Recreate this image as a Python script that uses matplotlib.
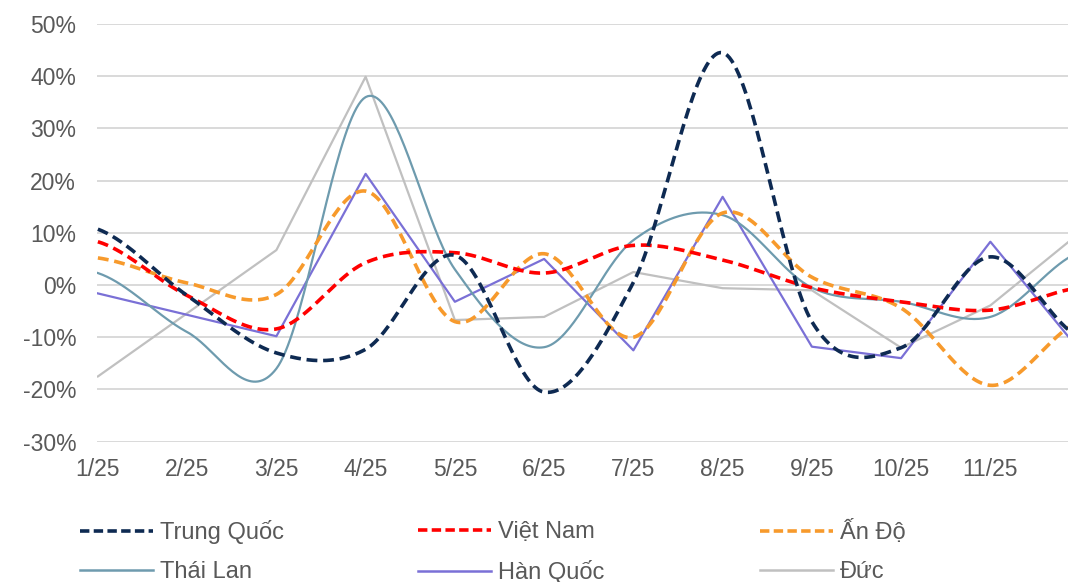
import matplotlib
matplotlib.use("Agg")
import matplotlib.pyplot as plt
import numpy as np
from matplotlib.lines import Line2D

plt.rcParams['font.family'] = ['Liberation Sans', 'DejaVu Sans']

# months (12/25 sits just past the right edge of the picture)
months = ["1/25", "2/25", "3/25", "4/25", "5/25", "6/25",
          "7/25", "8/25", "9/25", "10/25", "11/25", "12/25"]

# growth rates, %
trung_quoc = [10.7, -2.0, -13.0, -12.3, 5.7, -20.5, 0.5, 44.5, -7.0, -12.0, 5.4, -10.0]
viet_nam = [8.3, -2.0, -8.4, 4.3, 6.2, 2.3, 7.6, 4.8, -0.5, -3.2, -4.8, -0.5]
an_do = [5.2, 0.4, -1.8, 18.0, -7.0, 6.0, -10.0, 13.8, 1.5, -4.4, -19.2, -7.0]
thai_lan = [2.3, -9.0, -16.0, 36.0, 3.0, -11.9, 8.6, 13.4, -0.5, -3.2, -6.1, 6.3]
han_quoc = [-1.6, -5.7, -9.8, 21.3, -3.2, 5.0, -12.5, 16.9, -11.8, -14.0, 8.3, -12.5]
duc = [-17.5, -5.4, 6.7, 39.9, -6.7, -6.1, 2.5, -0.6, -1.0, -12.0, -3.9, 10.0]

y_ticks = [-30, -20, -10, 0, 10, 20, 30, 40, 50]

GRAY_TXT = "#595959"


def smooth(y, n=40):
    # Excel-like smoothed line: Catmull-Rom segments as cubic Bezier
    y = np.asarray(y, dtype=float)
    pad = np.concatenate([[y[0]], y, [y[-1]]])
    xs, ys = [], []
    t = np.linspace(0, 1, n)
    for i in range(len(y) - 1):
        p0, p3 = pad[i + 1], pad[i + 2]
        c1 = p0 + (pad[i + 2] - pad[i]) / 6
        c2 = p3 - (pad[i + 3] - pad[i + 1]) / 6
        b = ((1 - t) ** 3 * p0 + 3 * (1 - t) ** 2 * t * c1
             + 3 * (1 - t) * t ** 2 * c2 + t ** 3 * p3)
        xs.append(i + t)
        ys.append(b)
    return np.concatenate(xs), np.concatenate(ys)


fig = plt.figure(figsize=(10.68, 5.82), dpi=100)
ax = fig.add_axes([97 / 1068, 1 - 441.7 / 582, 1 - 97 / 1068, (441.7 - 24) / 582])

series = [
    ("Trung Quốc", trung_quoc, "#0E2A52", True, True),
    ("Việt Nam", viet_nam, "#FF0000", True, True),
    ("Ấn Độ", an_do, "#F79A2C", True, True),
    ("Thái Lan", thai_lan, "#6E9BAE", False, True),
    ("Hàn Quốc", han_quoc, "#7A70D6", False, False),
    ("Đức", duc, "#C0C0C0", False, False),
]

x = np.arange(len(months))
# draw back to front like the original (gray at the back)
for name, vals, color, dashed, smoothed in series[::-1]:
    if smoothed:
        xs, ys = smooth(vals)
    else:
        xs, ys = x, np.asarray(vals, dtype=float)
    if dashed:
        ax.plot(xs, ys, color=color, lw=2.6, dashes=(3, 1.6), zorder=3)
    else:
        ax.plot(xs, ys, color=color, lw=1.6, zorder=3)

ax.set_xlim(-0.01, 10.87)
ax.set_ylim(-30, 50)
ax.set_yticks(y_ticks)
ax.set_yticklabels([f"{v}%" for v in y_ticks])
# the 12/25 label falls outside the visible area
ax.set_xticks(x[:-1])
ax.set_xticklabels(months[:-1])
ax.grid(axis='y', color="#D9D9D9", lw=1.4, zorder=0)
ax.set_axisbelow(True)
for s in ax.spines.values():
    s.set_visible(False)
ax.tick_params(axis='both', length=0, labelsize=16.5, colors=GRAY_TXT)
ax.tick_params(axis='y', pad=15)
ax.tick_params(axis='x', pad=12)

# legend: 3 columns x 2 rows, each entry placed on its own grid slot
col_x = [80, 418, 760]
row_y = [532, 572]
for k, (name, vals, color, dashed, smoothed) in enumerate(series):
    if dashed:
        h = Line2D([], [], color=color, lw=2.6, dashes=(2.6, 1.2))
    else:
        h = Line2D([], [], color=color, lw=1.8)
    leg = fig.legend([h], [name], loc='center left',
                     bbox_to_anchor=(col_x[k % 3] / 1068, 1 - row_y[k // 3] / 582),
                     frameon=False, fontsize=17, handlelength=3.1, handletextpad=0.3,
                     borderpad=0, borderaxespad=0)
    for t in leg.get_texts():
        t.set_color(GRAY_TXT)

fig.savefig("out.png", dpi=100)
